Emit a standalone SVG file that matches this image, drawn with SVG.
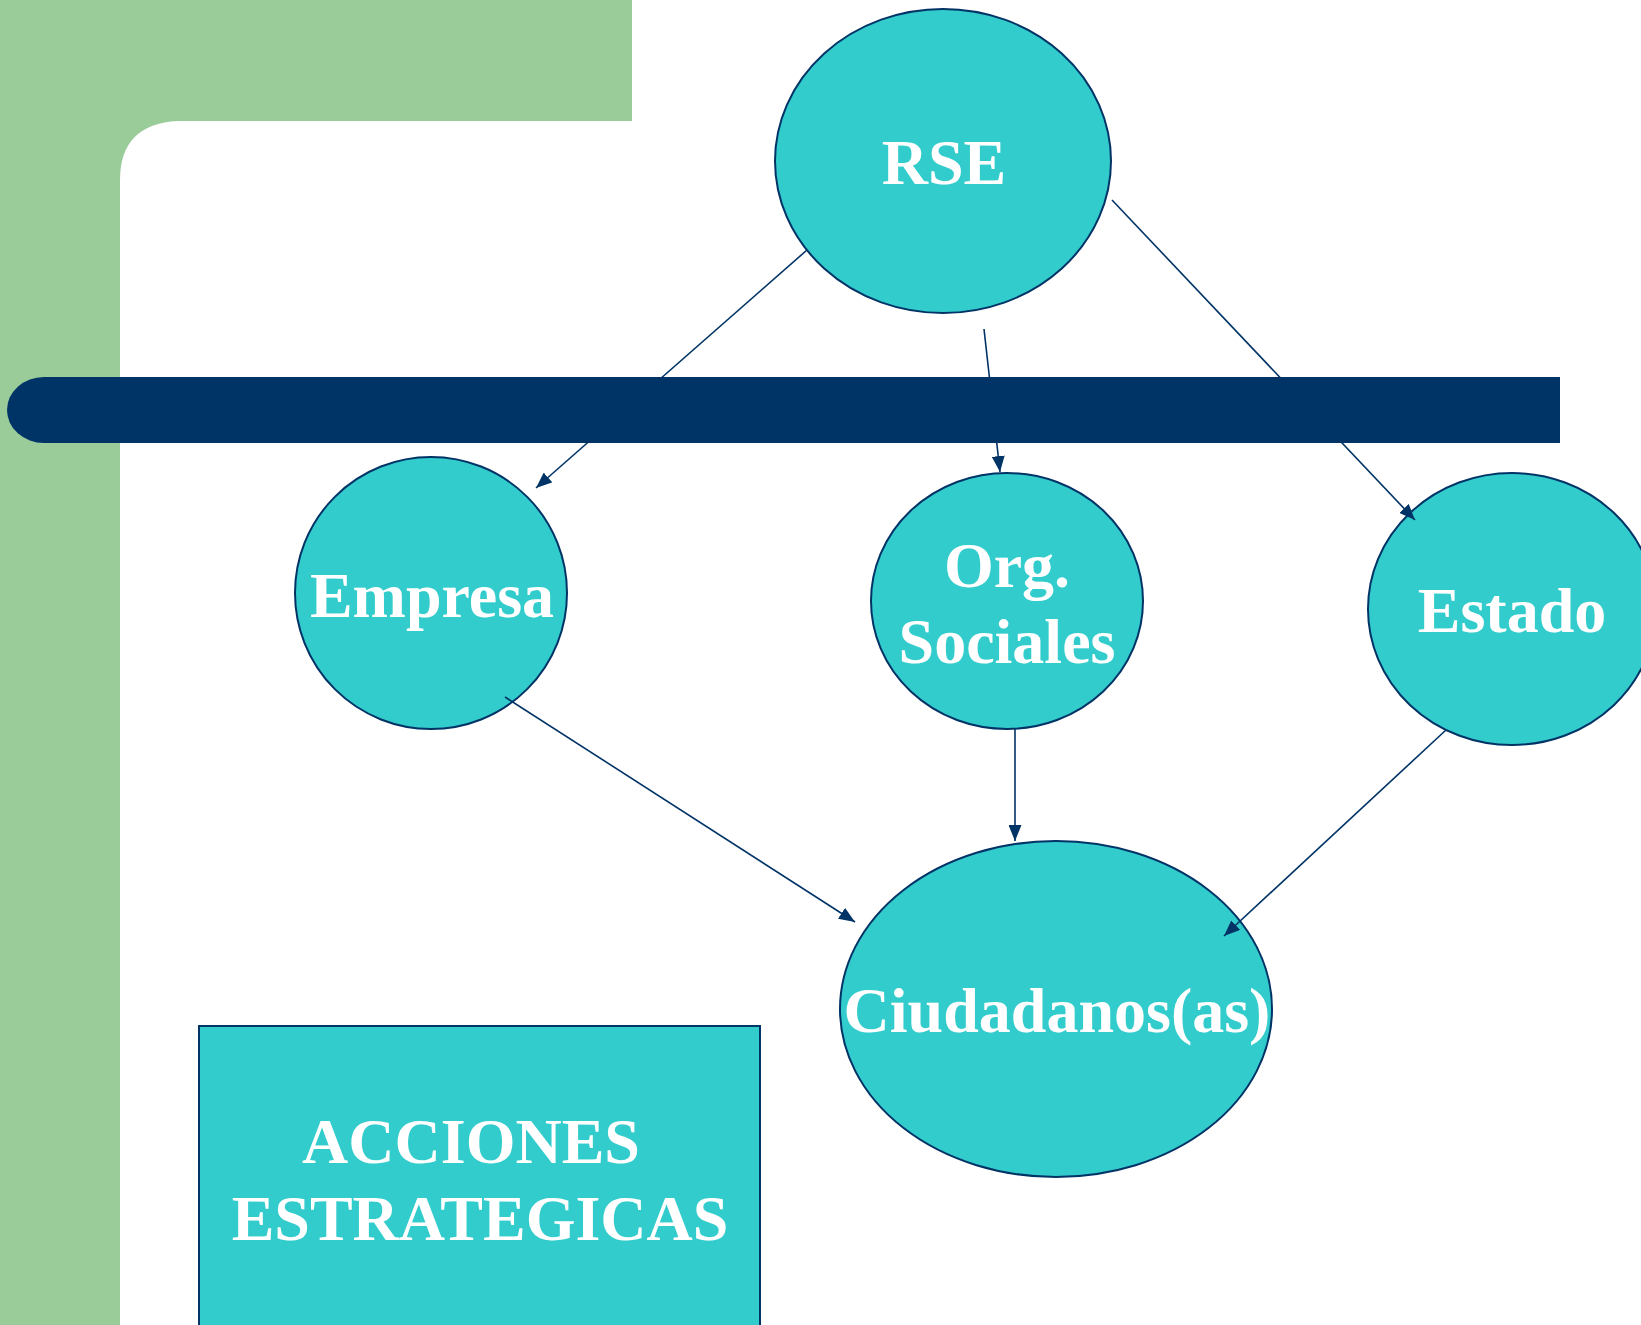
<svg xmlns="http://www.w3.org/2000/svg" width="1641" height="1325" viewBox="0 0 1641 1325">
<style>
.node{fill:#33CCCC;stroke:#003366;stroke-width:2}
.lbl{font-family:"Liberation Serif","Times New Roman",serif;font-weight:bold;font-size:64px;fill:#FFFFFF;text-anchor:middle}
.edge{stroke:#003366;stroke-width:1.6;fill:none;marker-end:url(#arr)}
</style>
<defs>
<marker id="arr" markerUnits="userSpaceOnUse" markerWidth="17" markerHeight="13" refX="16" refY="6.5" orient="auto">
<path d="M0,0 L16,6.5 L0,13 Z" fill="#003366"/>
</marker>
</defs>
<rect width="1641" height="1325" fill="#FFFFFF"/>
<g id="background">
<path d="M0,0 H632 V121 H178 Q120,124 120,180 V1325 H0 Z" fill="#99CC99"/>
</g>
<g id="node-rse">
<ellipse class="node" cx="943" cy="161" rx="168" ry="152"/>
<text class="lbl" x="944" y="184">RSE</text>
</g>
<g id="node-empresa">
<ellipse class="node" cx="431" cy="593" rx="136" ry="136"/>
<text class="lbl" x="432" y="617">Empresa</text>
</g>
<g id="node-org">
<ellipse class="node" cx="1007" cy="601" rx="136" ry="128"/>
<text class="lbl" x="1007" y="587">Org.</text>
<text class="lbl" x="1007" y="663">Sociales</text>
</g>
<g id="node-estado">
<ellipse class="node" cx="1512" cy="609" rx="144" ry="136"/>
<text class="lbl" x="1512" y="632">Estado</text>
</g>
<g id="node-ciudadanos">
<ellipse class="node" cx="1056" cy="1009" rx="216" ry="168"/>
<text class="lbl" x="1057" y="1032">Ciudadanos(as)</text>
</g>
<g id="node-acciones">
<rect class="node" x="199" y="1026" width="561" height="320"/>
<text class="lbl" x="471" y="1163">ACCIONES</text>
<text class="lbl" x="480" y="1240">ESTRATEGICAS</text>
</g>
<g id="connectors">
<line class="edge" x1="807" y1="250" x2="536" y2="488"/>
<line class="edge" x1="984" y1="329" x2="1000" y2="472"/>
<line class="edge" x1="1112" y1="200" x2="1415" y2="520"/>
<line class="edge" x1="505" y1="697" x2="855" y2="922"/>
<line class="edge" x1="1015" y1="729" x2="1015" y2="841"/>
<line class="edge" x1="1446" y1="730" x2="1224" y2="936"/>
</g>
<g id="bar">
<path d="M44,377 H1560 V443 H44 A37,33 0 0 1 44,377 Z" fill="#003366"/>
</g>
</svg>
